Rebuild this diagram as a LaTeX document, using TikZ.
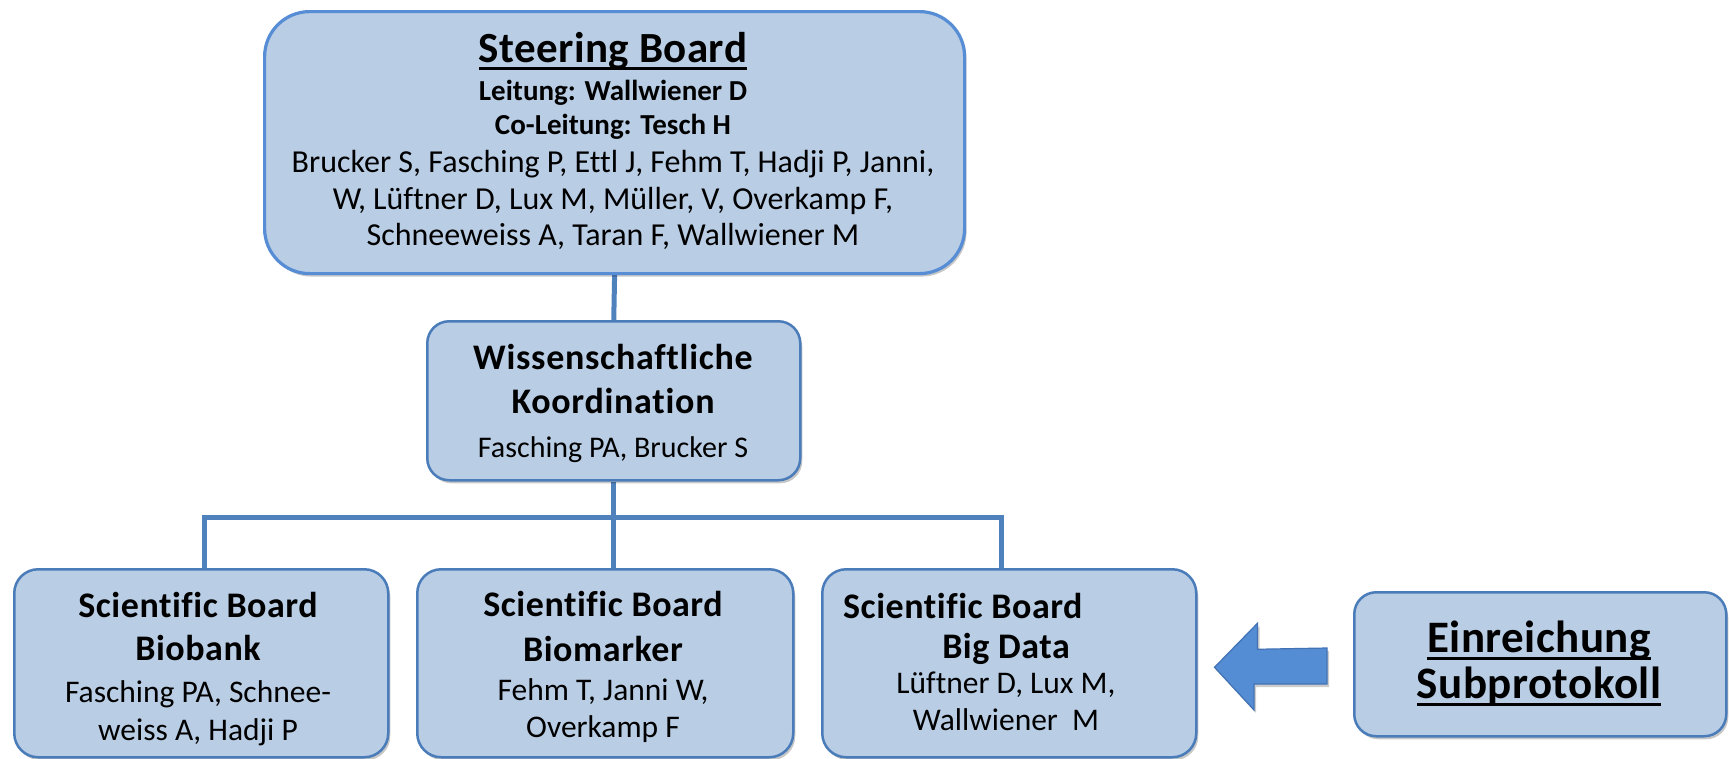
\documentclass[tikz,border=0pt]{standalone}
\usepackage{fontspec}
\setmainfont{Carlito}
\usetikzlibrary{shadows,backgrounds,calc}
\definecolor{boxfill}{RGB}{185,205,229}
\definecolor{boxline}{RGB}{74,124,186}
\definecolor{sbline}{RGB}{86,141,212}
\definecolor{connblue}{RGB}{79,129,189}
\definecolor{arrowfill}{RGB}{84,141,212}
\definecolor{arrowline}{RGB}{66,114,180}
\newcommand\fsz[1]{\fontsize{#1pt}{#1pt}\selectfont}
\newcommand\spc[1]{\addfontfeatures{LetterSpace=#1,Ligatures=NoCommon}}
\newsavebox\ulbox
\newcommand\myul[1]{\sbox\ulbox{#1}\rlap{\rule[-7.5pt]{\wd\ulbox}{2.8pt}}\usebox\ulbox}
\tikzset{
  boxs/.style={draw=boxline, fill=boxfill, line width=2.5pt, rounded corners=24pt,
    inner sep=0pt, anchor=north west,
    drop shadow={shadow xshift=2pt, shadow yshift=-3pt, opacity=0.22, fill=black}},
  conn/.style={draw=connblue, line width=5pt, line join=miter},
  txt/.style={anchor=base, inner sep=0pt, text=black},
  ttl/.style={txt, font=\bfseries\fsz{36}\spc{1.5}},
  bdy/.style={txt, font=\fsz{31.5}\spc{0}},
}
\begin{document}
\begin{tikzpicture}[x=1pt,y=-1pt]
\useasboundingbox (0,0) rectangle (1729,758);

% boxes
\node[boxs, draw=sbline, line width=3.2pt, rounded corners=45pt,
      minimum width=700pt, minimum height=262pt] (sb) at (263,10) {};
\node[boxs, rounded corners=22pt, minimum width=373pt, minimum height=159pt] (ko) at (426,320) {};
\node[boxs, minimum width=374pt, minimum height=188pt] (b1) at (13,568) {};
\node[boxs, minimum width=376pt, minimum height=188pt] (b2) at (416,568) {};
\node[boxs, minimum width=374pt, minimum height=188pt] (b3) at (821,568) {};
\node[boxs, rounded corners=22pt, minimum width=372pt, minimum height=144pt] (ein) at (1353,591) {};

% connectors
\coordinate (barL) at (204,517);
\coordinate (barR) at (1001,517);
\begin{scope}[on background layer]
\draw[conn] (sb.south) -- (ko.north);
\draw[conn] (ko.south) -- (ko.south |- b2.north);
\draw[conn] (barL |- b1.north) -- (barL) -- (barR) -- (barR |- b3.north);
\end{scope}

% arrow from Einreichung to Big Data board
\coordinate (atip) at ($(b3.east)+(17,4)$);
\coordinate (atail) at ($(ein.west)+(-26,3)$);
\fill[arrowfill, draw=arrowline, line width=1.2pt, line join=miter,
      drop shadow={shadow xshift=2pt, shadow yshift=-3pt, opacity=0.2, fill=black}]
  (atip) -- ++(43,-44) -- ++(0,26) -- (atail |- 0,648) -- (atail |- 0,684)
  -- ++(-73,0) -- ++(0,26) -- cycle;

% Steering Board text
\node[txt, font=\bfseries\fsz{43}\spc{1}] (sb1) at (613,62) {\myul{Steering Board}};
\node[txt, font=\bfseries\fsz{29}\spc{0}] (sb2) at (613,100) {Leitung: Wallwiener D};
\node[txt, font=\bfseries\fsz{29}\spc{0}] (sb3) at (613,134) {Co-Leitung: Tesch H};
\node[txt, font=\fsz{32}\spc{0}] (sb4) at (613,172) {Brucker S, Fasching P, Ettl J, Fehm T, Hadji P, Janni,};
\node[txt, font=\fsz{32}\spc{0}] (sb5) at (613,209) {W, Lüftner D, Lux M, Müller, V, Overkamp F,};
\node[txt, font=\fsz{32}\spc{0}] (sb6) at (613,245) {Schneeweiss A, Taran F, Wallwiener M};

% Koordination text
\node[txt, font=\bfseries\fsz{36}\spc{2}] (ko1) at (613,369) {Wissenschaftliche};
\node[txt, font=\bfseries\fsz{36}\spc{2}] (ko2) at (613,413) {Koordination};
\node[txt, font=\fsz{30}\spc{0}] (ko3) at (613,457) {Fasching PA, Brucker S};

% Biobank
\node[ttl] (b1a) at (198,617) {Scientific Board};
\node[ttl] (b1b) at (198,660) {Biobank};
\node[bdy] (b1c) at (198,702) {Fasching PA, Schnee-};
\node[bdy] (b1d) at (198,740) {weiss A, Hadji P};

% Biomarker
\node[ttl] (b2a) at (603,616) {Scientific Board};
\node[ttl] (b2b) at (603,661) {Biomarker};
\node[bdy] (b2c) at (603,700) {Fehm T, Janni W,};
\node[bdy] (b2d) at (603,737) {Overkamp F};

% Big Data
\node[ttl, anchor=base west] (b3a) at (843,618) {Scientific Board};
\node[ttl] (b3b) at (1006,658) {Big Data};
\node[bdy] (b3c) at (1006,693) {Lüftner D, Lux M,};
\node[bdy] (b3d) at (1006,730) {Wallwiener\ \ M};

% Einreichung
\node[txt, font=\bfseries\fsz{45}\spc{1}] (e1) at (1539,652) {\myul{Einreichung}};
\node[txt, font=\bfseries\fsz{45}\spc{1}] (e2) at (1539,698) {\myul{Subprotokoll}};
\end{tikzpicture}
\end{document}
